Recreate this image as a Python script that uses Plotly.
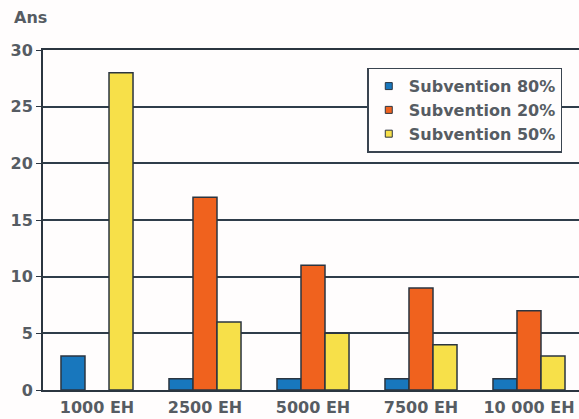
import plotly.graph_objects as go

categories = ["1000 EH", "2500 EH", "5000 EH", "7500 EH", "10 000 EH"]
sub_80 = [3, 1, 1, 1, 1]
sub_20 = [None, 17, 11, 9, 7]
sub_50 = [28, 6, 5, 4, 3]
y_ticks = [0, 5, 10, 15, 20, 25, 30]

series = [
    ("Subvention 80%", sub_80, "#1877bd"),
    ("Subvention 20%", sub_20, "#f0621e"),
    ("Subvention 50%", sub_50, "#f7e049"),
]

edge = "#2b3540"
font_gray = "#565c63"
txt = dict(family="DejaVu Sans, sans-serif", size=16, color=font_gray, weight="bold")

fig = go.Figure()
for name, vals, col in series:
    fig.add_trace(go.Bar(
        x=categories, y=vals, name=name, legendgroup=name, showlegend=False,
        marker=dict(color=col, line=dict(color=edge, width=1.5)),
    ))
# small square legend keys
for name, vals, col in series:
    fig.add_trace(go.Scatter(
        x=[None], y=[None], mode="markers", name=name, legendgroup=name,
        marker=dict(symbol="square", size=7, color=col, line=dict(color=edge, width=1)),
    ))

fig.update_layout(
    width=579, height=419,
    margin=dict(l=43, r=0, t=50, b=29),
    paper_bgcolor="#fffdfd", plot_bgcolor="#fffdfd",
    barmode="group", bargap=0.333, bargroupgap=0,
    font=txt,
    showlegend=True,
    legend=dict(
        x=0.605, y=0.948, xanchor="left", yanchor="top",
        bgcolor="#fffdfd", bordercolor="#3a4450", borderwidth=1.5,
        font=txt, tracegroupgap=0, itemwidth=30,
    ),
    xaxis=dict(
        range=[-0.5, 4.463], showgrid=False,
        showline=True, linecolor=edge, linewidth=2, mirror=True,
        ticks="", ticklabelstandoff=2,
        tickfont=txt,
    ),
    yaxis=dict(
        range=[0, 30], tickvals=y_ticks,
        showgrid=True, gridcolor="#2f3d4a", gridwidth=1.5,
        showline=True, linecolor=edge, linewidth=2,
        ticks="outside", ticklen=5, tickcolor=edge,
        tickfont=txt,
        zeroline=False,
    ),
    annotations=[dict(
        text="Ans", xref="paper", yref="paper",
        x=-0.058, y=1.097, xanchor="left", yanchor="middle",
        showarrow=False, font=txt,
    )],
)

fig.write_html("out.html")
